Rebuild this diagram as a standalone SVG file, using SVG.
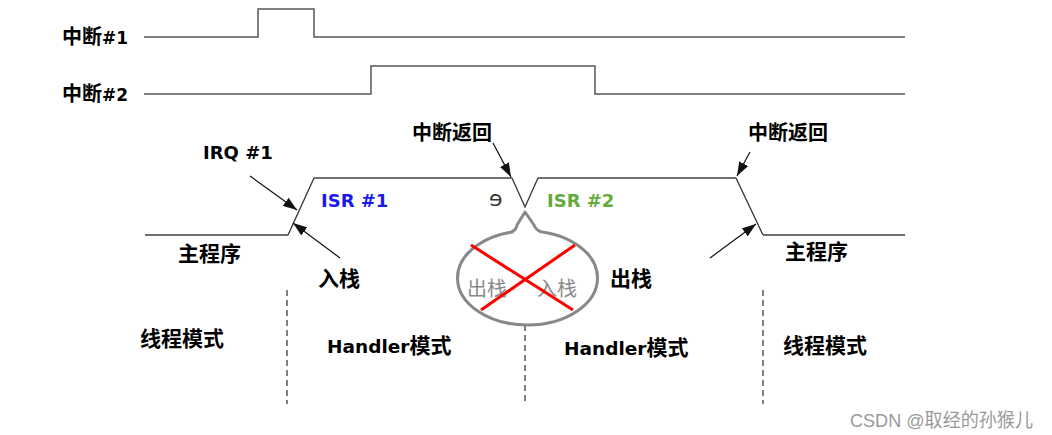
<svg xmlns="http://www.w3.org/2000/svg" width="1052" height="435" viewBox="0 0 1052 435">
<style>
.b{font-family:"DejaVu Sans","Noto Sans CJK SC",sans-serif;font-weight:bold;fill:#000;font-size:21px}
.lat{font-size:18px}
.sig{fill:none;stroke:#555;stroke-width:1.5}
.hz{fill:none;stroke:#707070;stroke-width:2}
.dg{fill:none;stroke:#333;stroke-width:1.3}
.arr{fill:none;stroke:#111;stroke-width:1.2;marker-end:url(#ah)}
.dash{stroke:#555;stroke-width:1.5;stroke-dasharray:6,4}
.gr{font-family:"Noto Sans CJK SC",sans-serif;font-size:20px;fill:#8a8a8a}
</style>
<defs>
<marker id="ah" viewBox="0 0 14 10" refX="14" refY="5" markerWidth="14" markerHeight="10" markerUnits="userSpaceOnUse" orient="auto"><path d="M0,0 L14,5 L0,10 z" fill="#111"/></marker>
</defs>
<rect width="1052" height="435" fill="#fff"/>

<g id="signal1">
<path class="sig" d="M144,37 H258 V9 H314 V37 H905"/>
<text class="b" x="62" y="44" style="font-size:20px">中断<tspan style="font-size:17px">#1</tspan></text>
</g>
<g id="signal2">
<path class="sig" d="M144,94 H371 V66 H595 V94 H905"/>
<text class="b" x="62" y="101" style="font-size:20px">中断<tspan style="font-size:17px">#2</tspan></text>
</g>

<g id="waveform">
<path class="hz" d="M145,235 H288 M314,178 H512 M538,178 H736 M763,235 H905"/>
<path class="dg" d="M288,235 L314,178 M512,178 L525,207 L538,178 M736,178 L763,235"/>
</g>

<g id="connectors">
<path class="arr" d="M250,176 L297,210"/>
<path class="arr" d="M340,258 L293,223"/>
<path class="arr" d="M493,143 L511,177"/>
<path class="arr" d="M750,152 L737,176"/>
<path class="arr" d="M710,258 L756,224"/>
<line class="dash" x1="287" y1="290" x2="287" y2="404"/>
<line class="dash" x1="525" y1="325" x2="525" y2="404"/>
<line class="dash" x1="763" y1="290" x2="763" y2="404"/>
</g>

<g id="labels">
<text class="b lat" x="203" y="159">IRQ #1</text>
<text class="b lat" x="321" y="207" style="fill:#1a1aee">ISR #1</text>
<text class="b lat" x="547" y="207" style="fill:#62ab3c">ISR #2</text>
<text x="489" y="206" style="font-family:'DejaVu Sans',sans-serif;font-size:22px;fill:#333">ɘ</text>
<text class="b" x="412" y="140" style="font-size:20px">中断返回</text>
<text class="b" x="748" y="140" style="font-size:20px">中断返回</text>
<text class="b" x="178" y="261">主程序</text>
<text class="b" x="785" y="259">主程序</text>
<text class="b" x="318" y="286">入栈</text>
<text class="b" x="610" y="286">出栈</text>
<text class="b" x="140" y="346">线程模式</text>
<text class="b" x="783" y="353">线程模式</text>
<text class="b" x="327" y="353"><tspan style="font-size:18.5px">Handler</tspan>模式</text>
<text class="b" x="564" y="355"><tspan style="font-size:18.5px">Handler</tspan>模式</text>
</g>

<g id="callout">
<ellipse cx="527.5" cy="278" rx="70" ry="47" fill="#fff" stroke="#888" stroke-width="3"/>
<path d="M511,233.5 Q517,229 517,225 L525,212 L534,225 Q535,229 541,233.5 Z" fill="#fff"/>
<path d="M511,232.3 Q517,229 517,225 L525,212 L534,225 Q535,229 541,231.9" fill="none" stroke="#888" stroke-width="3" stroke-linejoin="round"/>
<text class="gr" x="467" y="296">出栈</text>
<text class="gr" x="537" y="296">入栈</text>
<line x1="471" y1="245" x2="573" y2="310" stroke="#f00" stroke-width="3"/>
<line x1="575" y1="245" x2="481" y2="310" stroke="#f00" stroke-width="3"/>
</g>

<text x="850" y="427" textLength="183" lengthAdjust="spacingAndGlyphs" style="font-family:'Liberation Sans','Noto Sans CJK SC',sans-serif;font-size:19px;fill:#9a9a9a">CSDN @取经的孙猴儿</text>
</svg>
